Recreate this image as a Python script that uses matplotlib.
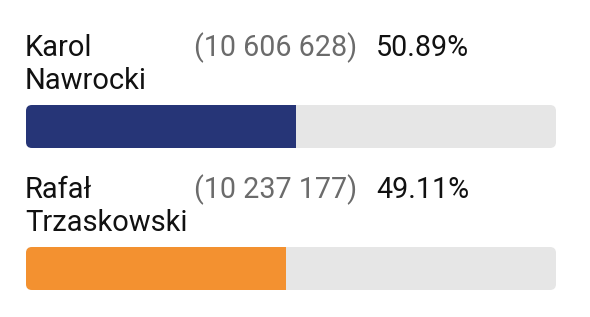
import matplotlib
matplotlib.use("Agg")
import matplotlib.pyplot as plt
from matplotlib.patches import FancyBboxPatch

# Wyniki drugiej tury
imiona = ["Karol", "Rafał"]
nazwiska = ["Nawrocki", "Trzaskowski"]
glosy = [10606628, 10237177]
procenty = [50.89, 49.11]
kolory = ["#263577", "#F39130"]

W, H = 590, 317
fig = plt.figure(figsize=(W / 100, H / 100), dpi=100)
fig.patch.set_facecolor("white")

# os w procentach (0-100) na szerokosc paska, w pionie piksele
x0, x1 = 26, 556
ax = fig.add_axes([x0 / W, 0, (x1 - x0) / W, 1])
ax.set_xlim(0, 100)
ax.set_ylim(H, 0)
ax.axis("off")

px = (x1 - x0) / 100.0  # pikseli na 1%
promien = 6
fs = 20.6

def fmt(n):
    return "{:,}".format(n).replace(",", " ")

def napis(x, y, s, kolor, size=fs):
    fig.text(x / W, 1 - y / H, s, fontsize=size, family="Roboto",
             color=kolor, va="baseline", ha="left")

wiersz_y = [0, 142]
for i in range(len(imiona)):
    dy = wiersz_y[i]
    napis(x0 - 1, 56 + dy, imiona[i], "#111111", fs + 0.4)
    napis(x0 - 1, 89 + dy, nazwiska[i], "#111111", fs + 0.4)
    napis(194, 56 + dy, "(" + fmt(glosy[i]) + ")", "#6b6b6b")
    napis(376, 56 + dy, "{:.2f}%".format(procenty[i]), "#111111")

    # tlo paska
    top, h = 105 + dy, 43
    tor = FancyBboxPatch((0, top), 100, h,
                         boxstyle="round,pad=0,rounding_size=%f" % (promien / px),
                         mutation_aspect=px, facecolor="#E6E6E6",
                         edgecolor="none")
    ax.add_patch(tor)
    # wypelnienie
    bar = ax.barh(top + h / 2, procenty[i], height=h, left=0, color=kolory[i])
    for r in bar:
        r.set_clip_path(tor)

fig.savefig("out.png", dpi=100)
